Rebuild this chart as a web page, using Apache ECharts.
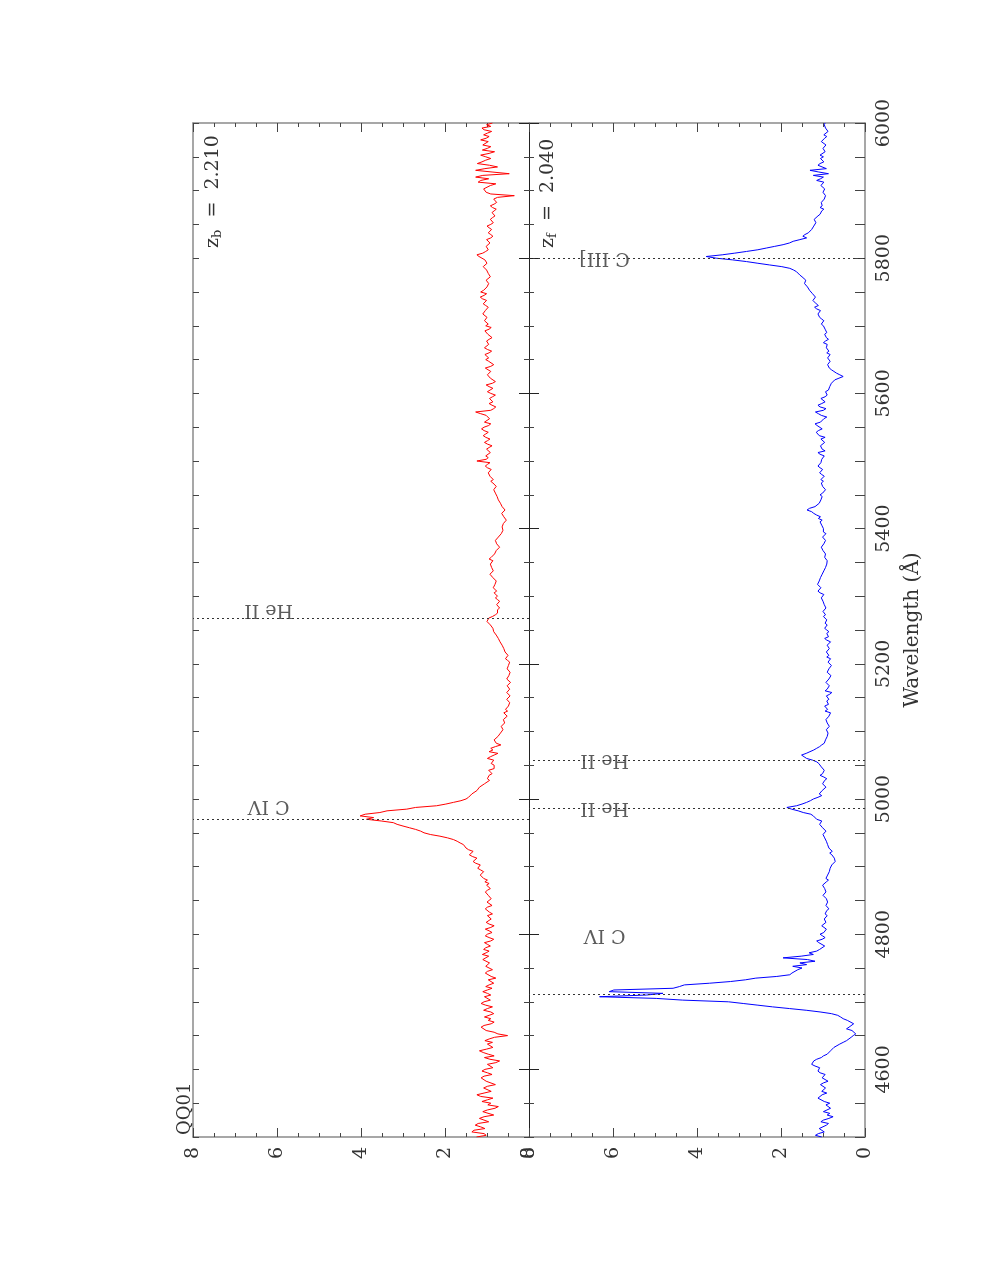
<!DOCTYPE html>
<html><head><meta charset="utf-8">
<script src="https://cdn.jsdelivr.net/npm/echarts@6/dist/echarts.min.js"></script>
<style>html,body{margin:0;padding:0;background:#fff}#chart{width:981px;height:1269px}</style>
</head><body><div id="chart"></div>
<script>
const waveStart = 4500;
const waveStep = 2.5;

const fluxRed = [
/*4500*/ 1.25,1.02,1.07,1.36,1.31,1.05,1.15,1.28,1.21,0.96,0.99,1.18,1.07,0.84,0.87,1.10,0.99,0.81,0.73,0.98,
/*4550*/ 0.91,1.12,0.99,0.86,1.15,1.24,1.07,0.90,0.91,1.08,0.99,0.80,0.83,1.02,0.99,1.14,1.07,0.88,0.99,1.12,
/*4600*/ 1.05,0.86,0.83,0.99,0.79,0.70,0.93,1.06,0.83,0.97,1.09,1.18,1.01,0.86,0.83,0.99,0.87,1.05,0.95,0.82,
/*4650*/ 0.51,0.74,0.83,1.02,0.99,1.14,1.07,0.90,0.83,0.97,0.91,1.06,0.95,0.84,0.91,1.08,0.99,0.87,1.03,1.14,
/*4700*/ 1.07,0.92,0.95,1.06,0.91,0.99,1.10,0.99,0.88,1.03,0.95,0.84,0.83,0.97,0.79,0.90,0.91,1.04,0.99,0.87,
/*4750*/ 0.91,1.03,1.07,0.94,0.95,1.10,1.07,0.96,1.11,1.02,0.95,1.08,1.03,0.92,0.99,1.06,0.91,0.84,0.95,1.04,
/*4800*/ 0.99,0.88,0.95,1.04,0.91,0.83,0.95,1.02,0.99,0.90,0.91,0.99,0.87,0.94,0.95,1.04,0.99,0.88,0.91,1.00,
/*4850*/ 0.99,0.90,0.87,0.97,0.95,1.04,0.99,0.92,0.91,1.01,0.95,1.05,0.99,1.08,1.07,1.16,1.15,1.08,1.15,1.22,
/*4900*/ 1.23,1.16,1.27,1.33,1.31,1.24,1.35,1.42,1.39,1.33,1.44,1.50,1.48,1.56,1.64,1.71,1.80,1.94,2.12,2.35,
/*4950*/ 2.50,2.58,2.70,2.85,3.00,3.14,3.23,3.52,3.87,3.70,4.02,3.90,3.55,3.38,2.91,2.70,2.20,1.98,1.80,1.62,
/*5000*/ 1.50,1.44,1.40,1.36,1.33,1.24,1.27,1.18,1.15,1.06,1.03,0.94,0.99,1.02,0.95,0.88,0.91,0.96,0.83,0.79,
/*5050*/ 0.83,0.90,0.91,0.84,0.99,0.92,0.83,0.74,0.95,0.86,0.91,0.80,0.67,0.78,0.75,0.83,0.83,0.74,0.75,0.68,
/*5100*/ 0.67,0.62,0.59,0.66,0.67,0.58,0.55,0.61,0.59,0.52,0.55,0.60,0.51,0.56,0.55,0.49,0.51,0.46,0.47,0.53,
/*5150*/ 0.51,0.45,0.47,0.53,0.51,0.46,0.47,0.52,0.51,0.44,0.47,0.53,0.51,0.48,0.51,0.45,0.47,0.52,0.55,0.49,
/*5200*/ 0.51,0.46,0.51,0.56,0.55,0.50,0.51,0.57,0.55,0.60,0.59,0.64,0.63,0.69,0.67,0.73,0.75,0.78,0.79,0.84,
/*5250*/ 0.83,0.86,0.87,0.92,0.95,1.00,1.03,0.96,0.87,0.80,0.75,0.72,0.75,0.70,0.71,0.77,0.75,0.70,0.75,0.80,
/*5300*/ 0.75,0.79,0.83,0.77,0.79,0.85,0.87,0.81,0.83,0.78,0.79,0.86,0.87,0.93,0.91,0.85,0.83,0.89,0.87,0.92,
/*5350*/ 0.91,0.86,0.95,0.90,0.87,0.82,0.83,0.78,0.75,0.70,0.71,0.77,0.75,0.80,0.79,0.73,0.71,0.66,0.67,0.62,
/*5400*/ 0.59,0.64,0.67,0.61,0.59,0.54,0.55,0.60,0.59,0.65,0.63,0.57,0.59,0.64,0.63,0.68,0.67,0.73,0.71,0.76,
/*5450*/ 0.75,0.80,0.79,0.84,0.83,0.78,0.79,0.86,0.91,0.85,0.87,0.93,0.91,0.97,0.95,0.90,0.99,1.04,0.99,0.93,
/*5500*/ 1.24,1.02,0.97,1.03,0.99,0.92,0.95,1.01,0.95,0.88,0.99,1.06,0.99,0.93,1.03,1.09,1.03,0.97,1.07,1.13,
/*5550*/ 1.07,0.96,0.91,1.06,1.03,0.94,0.91,1.02,1.15,1.27,0.91,0.84,0.79,0.88,0.95,0.86,0.83,0.94,0.87,0.80,
/*5600*/ 0.91,0.99,0.95,0.86,0.95,1.02,0.87,0.80,0.83,0.92,0.91,0.99,0.99,0.91,0.95,1.04,0.91,0.84,0.87,0.96,
/*5650*/ 1.03,0.96,0.99,1.05,0.95,0.89,0.99,1.06,1.03,0.96,0.95,1.01,0.95,0.88,0.91,0.98,0.99,1.05,0.95,0.90,
/*5700*/ 1.03,0.97,0.99,1.06,1.07,1.00,1.03,1.10,1.11,1.04,1.03,0.97,1.03,1.09,1.07,1.01,1.11,1.16,1.07,1.01,
/*5750*/ 1.15,1.08,1.07,1.00,1.03,0.96,0.95,1.02,0.99,0.92,0.91,0.97,0.95,1.01,1.03,1.09,1.07,1.00,0.99,1.05,
/*5800*/ 1.07,1.19,1.24,1.10,1.03,0.97,0.95,1.02,0.99,0.93,0.95,1.01,0.91,0.86,0.91,0.97,0.95,0.89,0.95,1.00,
/*5850*/ 0.91,0.85,0.87,0.92,0.87,0.81,0.83,0.88,0.83,0.78,0.87,0.92,0.83,0.77,0.79,0.84,0.75,0.35,0.91,1.02,
/*5900*/ 0.99,1.08,1.11,0.92,0.79,1.21,1.15,0.96,1.27,1.10,0.47,0.88,1.27,1.05,0.75,0.94,1.23,1.12,1.03,0.91,
/*5950*/ 1.03,1.15,0.95,0.82,1.11,0.99,0.91,1.10,1.07,0.97,1.15,1.02,0.95,1.08,0.99,0.89,1.07,1.12,0.91,1.01,
/*6000*/ 0.87
];

const fluxBlue = [
/*4500*/ 1.03,1.18,1.11,0.97,0.95,1.09,1.07,0.92,0.87,1.05,0.99,0.86,0.76,0.90,0.84,0.99,0.95,0.82,0.80,0.93,
/*4550*/ 0.84,0.97,0.95,1.12,1.15,1.02,0.91,1.03,1.07,0.94,0.95,1.06,0.99,0.88,0.91,1.02,1.03,0.95,1.07,1.12,
/*4600*/ 1.15,1.08,1.19,1.27,1.31,1.22,1.15,1.04,0.99,0.90,0.91,0.82,0.84,0.74,0.72,0.60,0.52,0.44,0.40,0.33,
/*4650*/ 0.28,0.22,0.20,0.31,0.44,0.38,0.36,0.27,0.30,0.42,0.52,0.58,0.65,0.80,1.07,1.40,1.80,2.20,2.55,2.90,
/*4700*/ 3.25,4.34,4.97,6.32,5.20,4.81,6.09,5.98,4.57,4.42,4.30,3.70,3.20,2.85,2.60,2.10,1.79,1.74,1.70,1.60,
/*4750*/ 1.50,1.72,1.39,1.55,1.19,1.37,1.95,1.52,1.23,1.33,1.15,1.08,1.07,0.96,0.99,1.10,1.15,1.02,0.95,1.01,
/*4800*/ 1.07,0.98,0.99,0.92,0.95,1.03,0.99,0.93,0.91,0.97,0.99,0.90,0.95,0.99,0.91,0.86,0.87,0.93,0.95,0.89,
/*4850*/ 0.87,0.92,0.95,1.00,0.99,0.93,0.91,0.96,0.95,1.01,0.99,0.92,0.87,0.93,0.95,0.89,0.91,0.85,0.87,0.83,
/*4900*/ 0.84,0.79,0.76,0.71,0.68,0.73,0.72,0.79,0.84,0.78,0.80,0.86,0.84,0.89,0.87,0.92,0.91,0.96,0.95,1.00,
/*4950*/ 0.99,0.93,0.95,1.01,1.03,1.08,1.07,1.03,1.15,1.11,1.23,1.29,1.47,1.59,1.75,1.86,1.63,1.50,1.39,1.30,
/*5000*/ 1.23,1.12,1.03,1.09,1.11,1.02,0.99,0.93,0.95,1.01,1.03,0.96,0.91,0.98,1.07,1.01,1.03,0.97,0.99,1.04,
/*5050*/ 1.07,1.10,1.15,1.25,1.39,1.45,1.51,1.40,1.31,1.22,1.15,1.08,1.03,0.97,0.99,0.94,0.95,0.90,0.91,0.88,
/*5100*/ 0.87,0.92,0.91,0.85,0.84,0.90,0.87,0.93,0.91,0.86,0.87,0.82,0.95,0.89,0.91,0.96,0.87,0.83,0.91,0.86,
/*5150*/ 0.87,0.92,0.84,0.79,0.95,0.90,0.91,0.85,0.87,0.93,0.91,0.86,0.87,0.81,0.84,0.90,0.91,0.86,0.84,0.80,
/*5200*/ 0.84,0.88,0.87,0.82,0.91,0.86,0.87,0.92,0.91,0.85,0.84,0.90,0.87,0.82,0.91,0.96,0.87,0.84,0.91,0.86,
/*5250*/ 0.91,0.96,0.95,0.90,0.95,0.99,0.91,0.88,0.99,0.94,0.95,1.00,0.99,0.93,0.91,0.97,0.95,1.00,0.99,1.04,
/*5300*/ 1.03,0.98,1.07,1.12,1.11,1.05,1.07,1.13,1.15,1.09,1.11,1.06,1.07,1.02,1.03,0.98,0.99,0.94,0.95,0.91,
/*5350*/ 0.95,0.90,0.91,0.96,0.99,0.94,0.95,1.00,0.99,1.04,1.03,0.98,0.99,0.94,0.95,1.01,0.99,0.93,0.99,1.03,
/*5400*/ 0.99,0.95,1.03,0.99,1.07,1.02,1.11,1.06,1.15,1.22,1.27,1.38,1.32,1.19,1.15,1.09,1.11,1.05,1.07,1.02,
/*5450*/ 1.07,1.01,0.99,0.94,0.95,1.01,0.99,1.04,0.99,1.05,1.03,0.97,1.03,1.08,1.07,1.01,1.07,1.12,1.11,1.05,
/*5500*/ 1.09,1.03,1.03,0.97,1.07,1.12,0.95,1.02,0.99,1.06,1.03,0.96,0.99,1.05,0.95,1.09,1.07,1.16,1.11,1.02,
/*5550*/ 1.03,1.14,1.19,1.06,1.07,0.98,0.91,1.04,1.11,1.18,0.99,0.93,1.07,1.12,1.03,0.95,0.99,1.05,0.95,0.90,
/*5600*/ 0.91,0.94,0.87,0.83,0.84,0.88,0.80,0.76,0.72,0.62,0.52,0.60,0.68,0.74,0.80,0.85,0.84,0.89,0.87,0.83,
/*5650*/ 0.84,0.89,0.87,0.83,0.91,0.86,0.87,0.92,0.95,0.90,0.99,0.94,0.87,0.92,0.91,0.96,0.91,0.87,0.95,0.99,
/*5700*/ 0.99,1.04,1.03,0.98,1.03,1.08,1.07,1.12,1.11,1.06,1.15,1.20,1.11,1.16,1.19,1.24,1.23,1.18,1.19,1.25,
/*5750*/ 1.27,1.32,1.31,1.37,1.39,1.44,1.47,1.41,1.43,1.50,1.55,1.59,1.63,1.70,1.79,1.98,2.27,2.55,2.82,3.15,
/*5800*/ 3.54,3.78,3.40,3.10,2.82,2.55,2.35,2.15,1.95,1.80,1.71,1.55,1.39,1.48,1.43,1.35,1.31,1.27,1.30,1.22,
/*5850*/ 1.23,1.17,1.15,1.21,1.19,1.12,1.07,1.11,1.03,0.98,1.07,1.02,0.99,1.04,1.03,0.97,0.99,0.94,0.95,1.00,
/*5900*/ 1.03,0.96,0.95,1.05,1.07,0.98,1.15,1.06,0.99,1.23,0.87,1.10,1.31,0.92,0.95,1.12,1.07,0.98,0.94,1.06,
/*5950*/ 0.99,1.07,1.03,0.95,0.91,1.00,0.99,0.93,0.95,1.04,1.03,0.96,0.91,0.98,0.95,0.88,0.87,0.94,0.91,0.97,
/*6000*/ 0.95
];

const fluxTickLabels = [0, 2, 4, 6, 8];
const waveTickLabels = [4600, 4800, 5000, 5200, 5400, 5600, 5800, 6000];
const redLineWaves = [4970, 5268];
const blueLineWaves = [4711, 4987, 5058, 5800];
const redLineNames = ['C IV', 'He II'];
const redLineLabelFlux = [6.2, 6.2];
const redLineLabelWave = [4990, 5280];
const blueLineNames = ['C IV', 'He II', 'He II', 'C III]'];
const blueLineLabelFlux = [6.2, 6.2, 6.2, 6.2];
const blueLineLabelWave = [4799, 4987, 5058, 5800];
const panelTitle = 'QQ01';
const redshiftB = '2.210';
const redshiftF = '2.040';

// sampling grid of the spectra
const wave = fluxRed.map((_, i) => waveStart + i * waveStep);

// ---- styling ----
const FONT = 'DejaVu Serif';
const TEXT = '#333';
const FRAME = '#8a8a8a';
const INNER = '#222';
const TICK = '#444';

const chart = echarts.init(document.getElementById('chart'), null, {renderer: 'canvas'});

function fluxAxis(grid, pos, labels) {
  return {
    type: 'value', gridIndex: grid, position: pos, min: 0, max: 8, interval: 2, inverse: true,
    axisLine: {show: true, onZero: false, lineStyle: {color: FRAME, width: 1.5}},
    axisTick: {show: true, inside: true, length: 9, lineStyle: {color: TICK}},
    minorTick: {show: true, splitNumber: 4, length: 4, lineStyle: {color: TICK}},
    splitLine: {show: false}, minorSplitLine: {show: false},
    axisLabel: {show: labels, rotate: 90, margin: 10, fontFamily: FONT, fontSize: 19, color: TEXT,
      formatter: v => fluxTickLabels.includes(v) ? String(v) : ''}
  };
}
function waveAxis(grid, pos, extra) {
  return Object.assign({
    type: 'value', gridIndex: grid, position: pos, min: 4500, max: 6000,
    axisLine: {show: true, onZero: false, lineStyle: {color: FRAME, width: 1.5}},
    axisTick: {show: true, inside: true, length: 5, lineStyle: {color: TICK}},
    splitLine: {show: false},
    axisLabel: {show: false}
  }, extra);
}
const zRich = {
  a: {fontFamily: FONT, fontSize: 19, fill: TEXT},
  b: {fontFamily: FONT, fontSize: 13, fill: TEXT, padding: [9, 0, 0, 0]}
};

const option = {
  animation: false,
  backgroundColor: '#fff',
  grid: [
    {left: 193, top: 123, width: 336, height: 1014},
    {left: 529, top: 123, width: 336, height: 1014}
  ],
  xAxis: [
    fluxAxis(0, 'bottom', true),
    fluxAxis(0, 'top', false),
    fluxAxis(1, 'bottom', true),
    fluxAxis(1, 'top', false)
  ],
  yAxis: [
    waveAxis(0, 'left', {interval: 50, axisTick: {show: true, inside: true, length: 6, lineStyle: {color: TICK}}}),
    waveAxis(0, 'right', {interval: 50, axisLine: {show: true, onZero: false, lineStyle: {color: INNER, width: 1}}}),
    waveAxis(0, 'right', {splitNumber: 7, axisLine: {show: false, onZero: false},
      axisTick: {show: true, inside: true, length: 10, customValues: waveTickLabels, lineStyle: {color: INNER}}}),
    waveAxis(1, 'left', {interval: 50, axisLine: {show: true, onZero: false, lineStyle: {color: INNER, width: 1}}}),
    waveAxis(1, 'left', {splitNumber: 7, axisLine: {show: false, onZero: false},
      axisTick: {show: true, inside: true, length: 10, customValues: waveTickLabels, lineStyle: {color: INNER}}}),
    waveAxis(1, 'right', {interval: 50,
      axisTick: {show: true, inside: true, length: 10, lineStyle: {color: TICK}},
      axisLabel: {show: true, rotate: 90, margin: 10, fontFamily: FONT, fontSize: 19, color: TEXT,
        formatter: v => waveTickLabels.includes(v) ? String(v) : ''},
      name: 'Wavelength (Å)', nameLocation: 'middle', nameRotate: 90, nameGap: 38,
      nameTextStyle: {fontFamily: FONT, fontSize: 20, color: TEXT}})
  ],
  series: [
    {
      type: 'line', name: 'z_b', xAxisIndex: 0, yAxisIndex: 0,
      data: wave.map((w, i) => [fluxRed[i], w]),
      showSymbol: false, symbol: 'none', clip: true,
      lineStyle: {color: '#ff0000', width: 1}, itemStyle: {color: '#ff0000'},
      markLine: {silent: true, symbol: ['none', 'none'], label: {show: false},
        lineStyle: {type: [2, 3], color: '#333', width: 1},
        data: redLineWaves.map(w => ({yAxis: w}))}
    },
    {
      type: 'line', name: 'z_f', xAxisIndex: 2, yAxisIndex: 5,
      data: wave.map((w, i) => [fluxBlue[i], w]),
      showSymbol: false, symbol: 'none', clip: true,
      lineStyle: {color: '#0000ff', width: 1}, itemStyle: {color: '#0000ff'},
      markLine: {silent: true, symbol: ['none', 'none'], label: {show: false},
        lineStyle: {type: [2, 3], color: '#333', width: 1},
        data: blueLineWaves.map(w => ({yAxis: w}))}
    },
    {
      type: 'scatter', xAxisIndex: 0, yAxisIndex: 0, symbolSize: 0, silent: true,
      itemStyle: {color: 'transparent'},
      data: redLineNames.map((n, i) => ({name: n, value: [redLineLabelFlux[i], redLineLabelWave[i]]})),
      label: {show: true, position: 'inside', formatter: '{b}', rotate: 180,
        fontFamily: FONT, fontSize: 19, color: TEXT}
    },
    {
      type: 'scatter', xAxisIndex: 2, yAxisIndex: 5, symbolSize: 0, silent: true,
      itemStyle: {color: 'transparent'},
      data: blueLineNames.map((n, i) => ({name: n, value: [blueLineLabelFlux[i], blueLineLabelWave[i]]})),
      label: {show: true, position: 'inside', formatter: '{b}', rotate: 180,
        fontFamily: FONT, fontSize: 19, color: TEXT}
    }
  ],
  graphic: [
    {type: 'text', x: 194, y: 1135, rotation: Math.PI / 2, silent: true,
      style: {text: panelTitle, fontFamily: FONT, fontSize: 18, fill: TEXT, align: 'left', verticalAlign: 'bottom'}},
    {type: 'text', x: 213, y: 248, rotation: Math.PI / 2, silent: true,
      style: {text: '{a|z}{b|b}{a|  =  ' + redshiftB + '}', align: 'left', verticalAlign: 'middle', rich: zRich}},
    {type: 'text', x: 548, y: 248, rotation: Math.PI / 2, silent: true,
      style: {text: '{a|z}{b|f}{a|  =  ' + redshiftF + '}', align: 'left', verticalAlign: 'middle', rich: zRich}}
  ]
};
chart.setOption(option);
</script></body></html>
